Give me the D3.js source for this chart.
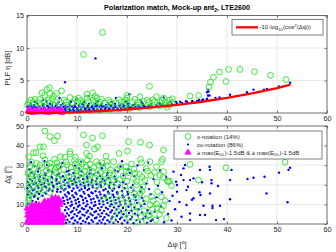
<!DOCTYPE html>
<html>
<head>
<meta charset="utf-8">
<script src="https://cdn.jsdelivr.net/npm/d3@7"></script>
<style>
  body { margin: 0; background: #fff; }
  svg { display: block; font-family: "Liberation Sans", Arial, sans-serif; }
</style>
</head>
<body>
<svg id="chart" width="336" height="252"></svg>
<script>
// ---- data ----
const psiTicks = [0, 10, 20, 30, 40, 50, 60];
const plfTicks = [0, 5, 10, 15];
const chiTicks = [0, 10, 20, 30, 40, 50];

// red reference curve -10log10(cos^2(dpsi)), read at these dpsi
const curvePsi = [0, 5, 10, 15, 20, 25, 30, 35, 40, 45, 50, 52.5];
const curvePlf = [0, 0.03, 0.13, 0.3, 0.54, 0.86, 1.25, 1.73, 2.32, 3.03, 3.84, 4.31];

// top panel: [dpsi, PLF]
const xRotTop = [
  [0.3,1.6],[1.3,1.65],[2.4,1.55],[3.5,1.7],[4.6,1.6],[5.7,1.75],[6.8,1.6],[7.9,1.7],[9.0,1.55],[10.1,1.7],
  [11.2,1.6],[12.3,1.75],[13.4,1.6],[14.5,1.7],[15.6,1.55],[16.7,1.7],[17.8,1.6],[18.9,1.75],[20.0,1.6],[21.1,1.7],
  [22.2,1.6],[23.3,1.75],[24.4,1.65],[25.5,1.7],[26.6,1.6],[27.7,1.7],
  [0.8,2.0],[2.5,2.1],[4.2,1.95],[5.1,2.15],[7.4,2.0],[9.6,2.1],[10.7,1.95],[13.2,2.05],[14.9,2.1],[16.3,1.95],
  [18.4,2.05],[19.7,2.0],[21.6,2.1],[24.0,2.0],[25.2,2.05],[27.0,1.95],[28.5,2.0],
  [0.1,1.2],[2.9,1.25],[5.4,1.2],[8.2,1.2],[11.0,1.25],[13.8,1.2],[16.6,1.25],[19.4,1.2],[22.3,1.25],[25.1,1.2],[27.9,1.25],
  [8.5,0.25],[10.5,0.3],[12.5,0.35],[14.5,0.45],[16.5,0.5],[18.5,0.6],[20.5,0.7],[22.5,0.85],[24.5,0.95],[26.5,1.1],
  [28.5,1.2],[28.0,0.9],[29.0,1.6],
  [11.3,9.0],[15.1,12.4],[4.5,3.9],[4.0,3.6],[3.0,3.1],[3.5,2.7],[4.6,3.0],[5.9,3.0],[6.9,3.4],[5.3,2.6],
  [1.6,2.1],[8.6,2.4],[10.3,2.3],[12.0,2.9],[13.1,3.1],[13.6,2.6],[12.0,2.3],[14.0,2.3],[20.0,2.7],[20.0,2.3],
  [22.6,2.5],[24.5,4.1],[25.9,2.5],[27.3,2.3],[29.1,2.2],[32.6,2.6],[34.3,2.7],[36.4,4.0],[36.7,4.75],[37.3,5.5],
  [38.5,6.3],[40.3,6.7],[39.8,4.85],[42.6,6.7],[45.5,6.35],[48.7,5.8],[51.8,5.15]
];

const coRotTop = [
  [7.7,0.15],[8.4,0.2],[9.2,0.12],[10.0,0.22],[10.8,0.18],[11.6,0.25],[12.4,0.26],
  [7.9,0.35],[8.7,0.4],[9.5,0.3],[10.3,0.38],[11.1,0.33],[11.9,0.42],[12.7,0.36],[13.5,0.4],[14.3,0.37],[15.1,0.43],[15.9,0.42],
  [7.6,0.55],[8.4,0.6],[9.2,0.5],[10.0,0.58],[10.8,0.52],[11.6,0.62],[12.4,0.55],[13.2,0.6],[14.0,0.5],[14.8,0.57],
  [15.6,0.53],[16.4,0.62],[17.2,0.56],[18.0,0.6],[18.8,0.58],[19.6,0.62],
  [0.4,0.75],[1.2,0.8],[2.0,0.7],[2.8,0.78],[3.6,0.72],[4.4,0.82],[5.2,0.74],[6.0,0.8],[6.8,0.7],[7.7,0.77],
  [8.5,0.73],[9.3,0.82],[10.1,0.75],[10.9,0.8],[11.7,0.7],[12.5,0.78],[13.3,0.74],[14.1,0.82],[14.9,0.76],[15.7,0.8],
  [16.5,0.72],[17.3,0.78],[18.1,0.74],[18.9,0.82],[19.7,0.76],[20.5,0.8],[21.3,0.75],[22.1,0.82],
  [0.1,0.95],[0.9,1.0],[1.7,0.9],[2.5,0.98],[3.3,0.92],[4.1,1.02],[4.9,0.94],[5.7,1.0],[6.5,0.9],[7.3,0.97],
  [8.1,0.93],[8.9,1.02],[9.7,0.95],[10.5,1.0],[11.3,0.9],[12.1,0.98],[12.9,0.94],[13.7,1.02],[14.5,0.96],[15.3,1.0],
  [16.1,0.92],[16.9,0.98],[17.7,0.94],[18.5,1.02],[19.3,0.96],[20.1,1.0],[20.9,0.93],[21.7,0.98],[22.6,0.95],[23.5,1.02],[24.4,1.0],
  [0.5,1.15],[1.4,1.2],[2.3,1.1],[3.2,1.18],[4.1,1.12],[5.0,1.22],[5.9,1.14],[6.8,1.2],[7.7,1.1],[8.6,1.17],
  [9.5,1.13],[10.4,1.22],[11.3,1.15],[12.2,1.2],[13.1,1.1],[14.0,1.18],[14.9,1.14],[15.8,1.22],[16.7,1.16],[17.6,1.2],
  [18.5,1.12],[19.4,1.18],[20.3,1.14],[21.2,1.22],[22.2,1.16],[23.3,1.2],[24.5,1.15],[25.8,1.22],
  [0.8,1.4],[2.0,1.45],[3.3,1.35],[4.6,1.43],[5.9,1.37],[7.2,1.47],[8.5,1.39],[9.8,1.45],[11.1,1.35],[12.4,1.42],
  [13.7,1.38],[15.0,1.47],[16.3,1.4],[17.6,1.45],[18.9,1.36],[20.2,1.43],[21.6,1.39],[23.1,1.46],[24.8,1.4],[26.6,1.45],
  [1.6,1.7],[3.9,1.78],[6.3,1.65],[8.8,1.75],[11.4,1.68],[14.1,1.8],[16.9,1.7],[19.8,1.76],[22.9,1.68],
  [23.0,0.8],[24.0,0.95],[25.0,1.0],[26.0,1.05],[27.0,1.2],[28.0,1.3],[29.0,1.4],[30.0,1.45],[31.0,1.55],[32.0,1.7],
  [33.0,1.75],[34.0,1.85],[35.0,1.95],[36.0,2.05],[26.5,1.5],[27.3,2.4],[28.7,1.7],[29.8,1.7],[30.6,1.75],[31.8,1.8],
  [33.1,1.85],[34.4,2.0],[35.2,2.1],[36.2,3.6],[36.3,3.3],[36.5,2.7],[36.0,3.2],[36.2,2.7],[36.0,2.2],[37.7,2.3],
  [38.5,2.4],[40.6,2.8],[44.0,3.2],[45.3,3.6],[47.4,3.6],[48.0,3.7],[50.4,4.1],[52.6,4.65],[7.6,4.75],[13.7,8.4],
  [9.8,2.1],[12.3,2.6],[17.8,2.3],[20.5,2.9],[22.7,2.0],[6.5,2.3],[3.2,2.0]
];

const bestTop = [
  [0.2,0.3],[0.6,0.15],[1.0,0.35],[1.4,0.2],[1.9,0.1],[2.3,0.3],[2.8,0.2],[3.2,0.35],[3.7,0.1],[4.1,0.25],
  [4.6,0.3],[5.0,0.15],[5.5,0.35],[5.9,0.2],[6.3,0.3],[6.8,0.15],[7.2,0.25],[0.4,0.55],[2.0,0.5],[3.5,0.45],
  [5.2,0.5],[6.6,0.45],[1.2,0.05],[4.4,0.05],[7.0,0.05]
];

// bottom panel: [dpsi, dchi]
const xRotBottom = [
  [3.6,47.4],[4.6,44.6],[5.5,42.5],[6.1,44.9],[11.3,45.4],[13.1,43.9],[15.1,45],[11.9,40.3],[13.5,38.3],[14.1,39.4],
  [20.3,42],[22.7,41.7],[24.5,40.3],[27.3,37.8],[1.3,36.4],[1.8,36.4],[2.6,39.4],[3.3,39.4],[8.6,36.9],[8.6,35.7],
  [0.3,34.3],[5.5,33],[6.7,34.3],[7.6,34],[4.6,31],[0.6,29.6],[2.6,30.1],[11.9,36],[12.5,34.7],[10.8,31.8],
  [13.9,31.8],[14.9,31.3],[18.4,36],[20.1,37.2],[17.3,31.8],[19.8,29.2],[21.4,28],[22.7,33],[22.9,31.3],[23.9,28.4],
  [24.6,31.8],[25.9,29.2],[27.1,33],[27.3,26.7],[28.1,21.9],[26.9,31.8],[32.6,30.4],[28.5,21.9],[28.9,19.6],[34.3,22.4],
  [39.8,28.7],[51.6,31.5],[26.9,7.1],[27.9,2.9],[22.6,15.6],[23.9,12.9],[25.2,11.9],[25.9,10.2],[27.3,9.4],[26,8.2],
  [0.2,26],[0.4,22],[0.1,18],[0.5,15],[0.3,12],[0.2,9.5],[0.8,24.5],[1.5,28],[2.2,26.5],[3.0,28.8],
  [3.8,27],[4.8,29],[5.6,27.8],[6.4,29.5],[7.3,28],[8.0,30.2],[8.8,29],[9.6,30.5],[10.3,28.6],[11.1,30.8],
  [11.8,29.3],[12.6,30.5],[13.4,28.8],[14.3,30],[15.2,28.5],[16.1,29.7],[9.1,26.5],[10.0,27.2],[10.8,25.8],[11.6,27],
  [12.4,25.6],[13.2,26.8],[14.0,25.2],[14.8,26.4],[15.6,24.8],[16.5,26],[17.3,24.6],[8.4,24],[9.3,23],[10.1,24.4],
  [11.0,22.8],[11.9,23.9],[12.7,22.2],[13.6,23.5],[14.5,21.8],[15.4,23],[16.3,21.5],[17.2,22.6],[18.1,20.8],[2.1,21.5],
  [3.1,23.5],[4.2,22],[5.3,24.2],[6.2,22.8],[7.1,25],[1.2,19.5],[2.6,18.2],[0.9,31.5],[6.0,31.2],[3.6,32.8],
  [19.2,24.5],[20.4,26.2],[21.3,23.2],[22.5,25.4],[23.6,22.5],[24.8,24.8],[26.0,21.5],[27.2,23.8],[19.6,19.2],[20.8,17.4],
  [21.9,20],[18.7,15.1],[19.9,13.2],[21.0,11.3],[22.2,9.1],[23.4,6.8],[24.5,4.5],[20.5,3.1],[18.2,6.4],[16.9,10.6],
  [25.8,2.1],[28.3,21.6],[24.6,9.7],[24.3,4.6],[21.9,13.9],[22.9,11.4],
  [0.6,20.5],[1.9,22.8],[2.8,19.9],[3.9,20.8],[5.0,19.0],[6.3,20.2],[7.4,18.6],[1.1,16.3],[2.3,14.9],[3.4,17.2],
  [4.5,16.0],[0.4,13.2],[1.0,25.5],[2.7,24.3],[4.4,25.6],[5.8,26.1],[7.8,22.1],[9.0,21.0],[10.6,20.3],[12.2,20.6],
  [13.8,19.6],[15.0,20.2],[16.8,19.1],[18.6,22.7],[20.0,21.9],[21.6,25.9],[23.0,23.9],[24.1,27.0],[25.5,26.3],[26.6,24.9],
  [1.9,30.9],[4.0,30.2],[5.9,29.0],[7.8,31.8],[9.5,32.4],[12.1,32.6],[16.0,31.9],[18.6,29.3],[20.9,30.6],[3.2,34.8],
  [9.7,34.0],[15.8,34.5],[16.7,27.6],[18.0,27.8],[19.8,27.0],[21.9,21.7],[23.2,19.0],
  [15.2,12.6],[16.4,14.3],[17.8,12.1],[19.1,10.4],[20.3,8.2],[21.6,6.0],[22.8,3.8],[23.9,1.5],[19.4,4.9],[17.3,2.3],
  [21.5,15.4],[23.0,16.9],[24.9,14.0],[26.1,16.6],[26.9,13.8],[27.6,12.0],[25.1,7.7],[26.5,5.0],[22.1,1.0]
];

const coRotBottom = [
  [7.8,0.6],[8.5,1.1],[9.3,0.3],[10.1,0.9],[10.8,0.2],[11.7,1.0],[12.4,0.4],[13.2,1.2],[14.1,0.3],[14.9,0.7],
  [15.6,0.2],[16.5,1.0],[17.3,0.5],[18.2,1.1],[19.0,0.3],[20.1,0.8],[21.3,0.4],[22.6,1.0],[24.0,0.5],
  [8.1,2.2],[8.9,2.8],[9.6,1.8],[10.5,2.5],[11.2,1.6],[12.0,2.7],[12.9,2.0],[13.6,2.9],[14.5,1.7],[15.2,2.3],
  [16.1,1.9],[16.9,2.8],[17.8,2.1],[18.6,2.6],[19.5,1.8],[20.7,2.4],[21.9,2.0],[23.2,2.7],[25.1,2.2],
  [7.7,3.8],[8.4,4.4],[9.2,3.4],[10.0,4.1],[10.7,3.2],[11.5,4.3],[12.3,3.6],[13.1,4.5],[13.9,3.3],[14.7,3.9],
  [15.5,3.5],[16.3,4.4],[17.1,3.7],[18.0,4.2],[18.9,3.4],[19.9,4.0],[21.0,3.6],[22.2,4.3],[23.7,3.8],
  [8.0,5.4],[8.8,6.0],[9.5,5.0],[10.3,5.7],[11.1,4.8],[11.9,5.9],[12.7,5.2],[13.5,6.1],[14.3,4.9],[15.0,5.5],
  [15.9,5.1],[16.7,6.0],[17.5,5.3],[18.4,5.8],[19.3,5.0],[20.4,5.6],[21.6,5.2],[23.0,5.9],[24.6,5.4],
  [7.6,7.0],[8.3,7.6],[9.1,6.6],[9.9,7.3],[10.6,6.4],[11.4,7.5],[12.2,6.8],[13.0,7.7],[13.8,6.5],[14.6,7.1],
  [15.4,6.7],[16.2,7.6],[17.0,6.9],[17.9,7.4],[18.8,6.6],[19.8,7.2],[20.9,6.8],[22.3,7.5],[24.1,7.0],
  [7.9,8.6],[8.7,9.2],[9.4,8.2],[10.2,8.9],[11.0,8.0],[11.8,9.1],[12.6,8.4],[13.4,9.3],[14.2,8.1],[14.9,8.7],
  [15.8,8.3],[16.6,9.2],[17.4,8.5],[18.3,9.0],[19.2,8.2],[20.3,8.8],[21.5,8.4],[22.8,9.1],
  [7.5,10.2],[8.2,10.8],[9.0,9.8],[9.8,10.5],[10.5,9.6],[11.3,10.7],[12.1,10.0],[12.9,10.9],[13.7,9.7],[14.5,10.3],
  [15.3,9.9],[16.1,10.8],[16.9,10.1],[17.8,10.6],[18.7,9.8],[19.7,10.4],[20.8,10.0],[22.0,10.7],[23.5,10.2],
  [7.4,11.8],[8.1,12.4],[8.9,11.4],[9.7,12.1],[10.4,11.2],[11.2,12.3],[12.0,11.6],[12.8,12.5],[13.6,11.3],[14.4,11.9],
  [15.2,11.5],[16.0,12.4],[16.8,11.7],[17.7,12.2],[18.6,11.4],[19.6,12.0],[20.6,11.6],[21.8,12.3],[23.3,11.8],
  [0.3,10.5],[1.1,11.8],[1.8,11.2],[0.6,13.4],[1.4,13.9],[2.2,12.9],[7.2,13.4],[7.9,14.0],[8.6,13.0],[9.4,13.7],
  [10.2,12.8],[11.0,13.9],[11.7,13.2],[12.5,14.1],[13.3,12.9],[14.1,13.5],[14.9,13.1],[15.7,14.0],[16.6,13.3],[17.4,13.8],
  [18.3,13.0],[19.3,13.6],[20.4,13.2],[21.7,13.9],[23.0,13.4],
  [0.2,15.0],[0.9,15.6],[1.6,14.6],[2.4,15.3],[3.1,14.4],[3.8,15.5],[7.6,15.0],[8.4,15.6],[9.1,14.6],[9.9,15.3],
  [10.7,14.4],[11.5,15.5],[12.3,14.8],[13.1,15.7],[13.9,14.5],[14.7,15.1],[15.5,14.7],[16.4,15.6],[17.2,14.9],[18.1,15.4],
  [19.1,14.6],[20.2,15.2],[21.4,14.8],
  [0.4,16.6],[1.2,17.2],[2.0,16.2],[2.8,16.9],[3.6,16.0],[4.3,17.1],[5.1,16.8],[6.0,16.5],[6.7,16.4],[7.4,17.2],
  [8.2,16.2],[9.0,16.9],[9.7,16.0],[10.5,17.1],[11.3,16.4],[12.1,17.3],[12.9,16.1],[13.7,16.7],[14.5,16.3],[15.3,17.2],
  [16.2,16.5],[17.1,17.0],[18.0,16.2],[19.0,16.8],[20.1,16.4],[21.3,17.1],[22.7,16.6],
  [0.1,18.2],[0.8,18.8],[1.5,17.8],[2.3,18.5],[3.0,17.6],[3.8,18.7],[4.5,18.0],[5.3,18.9],[6.1,17.7],[6.9,18.3],
  [7.7,17.9],[8.5,18.8],[9.3,18.1],[10.1,18.6],[10.9,17.8],[11.6,18.4],[12.4,18.0],[13.2,18.7],[14.0,18.2],[14.8,18.9],
  [15.7,17.9],[16.5,18.5],[17.4,18.1],[18.4,18.8],[19.5,18.3],[20.8,18.6],
  [0.5,19.8],[1.3,20.4],[2.1,19.4],[2.9,20.1],[3.6,19.2],[4.4,20.3],[5.2,19.6],[6.0,20.5],[6.8,19.3],[7.5,19.9],
  [8.3,19.5],[9.1,20.4],[9.9,19.7],[10.7,20.2],[11.5,19.4],[12.3,20.0],[13.1,19.6],[13.9,20.3],[14.7,19.8],[15.6,20.5],
  [16.4,19.5],[17.4,20.1],[18.5,19.7],[19.8,20.4],
  [0.2,21.4],[1.0,22.0],[1.8,21.0],[2.6,21.7],[3.4,20.8],[4.2,21.9],[5.0,21.2],[5.8,22.1],[6.5,20.9],[7.3,21.5],
  [8.1,21.1],[8.9,22.0],[9.7,21.3],[10.5,21.8],[11.3,21.0],[12.1,21.6],[12.9,21.2],[13.8,21.9],[14.7,21.4],[15.6,22.1],
  [16.6,21.1],[17.8,21.7],[19.2,21.3],
  [0.6,23.0],[1.5,23.6],[2.4,22.6],[3.3,23.3],[4.1,22.4],[5.0,23.5],[5.9,22.8],[6.7,23.7],[7.6,22.5],[8.5,23.1],
  [9.4,22.7],[10.3,23.6],[11.2,22.9],[12.1,23.4],[13.0,22.6],[14.0,23.2],[15.1,22.8],[16.3,23.5],[17.7,23.0],
  [0.3,24.6],[1.4,25.2],[2.6,24.2],[3.7,24.9],[4.9,24.0],[6.1,25.1],[7.2,24.4],[8.4,25.3],[9.6,24.1],[10.8,24.7],
  [12.0,24.3],[13.3,25.2],[14.6,24.5],[16.0,25.0],[17.5,24.2],[19.3,24.8],[21.5,24.4],
  [0.9,26.2],[2.2,26.8],[3.6,25.8],[5.0,26.5],[6.4,25.6],[7.9,26.7],[9.3,26.0],[10.9,26.9],[12.5,25.7],[14.2,26.3],
  [16.1,25.9],[18.2,26.8],[20.6,26.1],
  [0.5,27.8],[2.4,28.4],[4.3,27.4],[6.2,28.1],[8.3,27.2],[10.4,28.3],[12.7,27.6],[15.0,28.5],[17.6,27.3],[20.3,27.9],[23.4,27.5],
  [1.5,29.5],[4.0,30.1],[6.8,29.1],[9.6,29.8],[12.4,28.9],[15.3,30.0],[18.7,29.3],[22.1,29.9],
  [0.8,31.5],[3.5,32.1],[7.1,31.1],[10.8,31.8],[14.6,30.9],[19.0,32.0],[24.2,31.3],
  [24.8,1.5],[26.1,3.2],[27.4,0.9],[25.5,6.3],[26.8,8.9],[28.2,5.1],[25.9,13.6],[27.0,16.2],[28.5,11.7],[24.4,17.8],
  [26.2,19.5],[27.8,24.1],[29.1,14.4],[29.6,7.5],[28.9,1.8],[23.9,20.6],[25.3,22.9],[26.6,27.3],[24.7,15.2],[22.9,18.8],[21.2,19.9],
  [29.3,26.7],[31.3,28.4],[31.6,30.1],[34.6,27.6],[36.5,29.2],[36.6,27.6],[40.9,27.6],[31.3,22.4],[32.6,22.4],[33.3,23.3],
  [36.9,22.4],[36.9,20.8],[40.6,22.4],[44.1,23],[45.3,23.6],[47.5,24.1],[52.3,27.6],[52.6,28.7],[30,19.9],[30,16.5],
  [31.9,17.3],[34.5,16.2],[34.7,14.8],[33.3,13.1],[33,12.4],[31.9,9.7],[35.3,9.3],[37.1,9.3],[37.1,8.2],[38.6,9.3],
  [40.6,12.6],[47.9,15.6],[52.1,11.1],[50.4,26.2],[36.6,15.6],[32.6,5.4],[35.6,4.6],[37.8,2],[30.9,3.7],[32.6,2],
  [34.6,4.6],[30.5,11.2],[29.8,21.6],[30.8,25.0],[32.2,19.0],[35.0,21.3],[38.2,19.4],[39.4,2.5]
];

const bestBottom = [
  [0.0,0.8],[0.7,0.8],[1.4,0.8],[2.1,0.8],[2.8,0.8],[3.5,0.8],[4.2,0.8],[4.9,0.8],[5.6,0.8],[6.3,0.8],[7.0,0.8],
  [0.3,2.6],[1.0,2.6],[1.7,2.6],[2.4,2.6],[3.1,2.6],[3.8,2.6],[4.5,2.6],[5.2,2.6],[5.9,2.6],[6.6,2.6],[7.2,2.6],
  [0.1,4.4],[0.8,4.4],[1.5,4.4],[2.2,4.4],[2.9,4.4],[3.6,4.4],[4.3,4.4],[5.0,4.4],[5.7,4.4],[6.4,4.4],[7.1,4.4],
  [0.2,6.2],[0.9,6.2],[1.6,6.2],[2.3,6.2],[3.0,6.2],[3.7,6.2],[4.4,6.2],[5.1,6.2],[5.8,6.2],[6.3,6.2],
  [0.0,8.0],[0.7,8.0],[1.4,8.0],[2.1,8.0],[2.8,8.0],[3.5,8.0],[4.2,8.0],[4.9,8.0],[5.6,8.0],[6.2,8.0],
  [1.0,9.8],[1.7,9.8],[2.4,9.8],[3.1,9.8],[3.8,9.8],[4.5,9.8],[5.2,9.8],[5.9,9.8],[6.6,9.8],
  [3.5,11.6],[4.2,11.6],[4.9,11.6],[5.6,11.6],[6.3,11.6],[6.8,11.2],
  [5.0,13.2],[5.7,13.4],[6.3,13.0]
];

// ---- layout ----
let width = 336, height = 252;
let left = 27, right = 327;
let textColor = "#262626";

let svg = d3.select("#chart");

let x = d3.scaleLinear().domain([0, 60]).range([left, right]);
let yTop = d3.scaleLinear().domain([0, 15]).range([113, 15.5]);
let yBot = d3.scaleLinear().domain([0, 50]).range([224, 126]);

function frame(y, yTicks, showX) {
  let top = y.range()[1], bottom = y.range()[0];
  let g = svg.append("g");

  // grid
  g.append("g").selectAll("line").data(psiTicks.slice(1, -1)).join("line")
    .attr("x1", d => x(d)).attr("x2", d => x(d))
    .attr("y1", top).attr("y2", bottom)
    .attr("stroke", "#e3e3e3").attr("stroke-width", 0.8);
  g.append("g").selectAll("line").data(yTicks.slice(1, -1)).join("line")
    .attr("x1", left).attr("x2", right)
    .attr("y1", d => y(d)).attr("y2", d => y(d))
    .attr("stroke", "#e3e3e3").attr("stroke-width", 0.8);

  // axes with inward ticks
  let xAxis = g.append("g")
    .attr("transform", `translate(0,${bottom})`)
    .call(d3.axisBottom(x).tickValues(psiTicks).tickSize(-2.5).tickSizeOuter(0).tickPadding(3));
  if (!showX) xAxis.selectAll("text").remove();

  g.append("g")
    .attr("transform", `translate(0,${top})`)
    .call(d3.axisTop(x).tickValues(psiTicks).tickSize(-2.5).tickSizeOuter(0).tickFormat(""));

  g.append("g")
    .attr("transform", `translate(${left},0)`)
    .call(d3.axisLeft(y).tickValues(yTicks).tickSize(-2.5).tickSizeOuter(0).tickPadding(3));

  g.append("g")
    .attr("transform", `translate(${right},0)`)
    .call(d3.axisRight(y).tickValues(yTicks).tickSize(-2.5).tickSizeOuter(0).tickFormat(""));

  g.selectAll(".domain").remove();
  g.selectAll(".tick line").attr("stroke", textColor).attr("stroke-width", 0.6);
  g.selectAll(".tick text").attr("fill", textColor).attr("font-size", 7.3)
    .attr("font-family", "Liberation Sans, Arial, sans-serif");

  g.append("rect")
    .attr("x", left).attr("y", top)
    .attr("width", right - left).attr("height", bottom - top)
    .attr("fill", "none").attr("stroke", "#4a4a4a").attr("stroke-width", 0.8);
  return g;
}

let triangle = d3.symbol().type(d3.symbolTriangle).size(15);

function scatter(y, xrot, corot, best) {
  let g = svg.append("g");
  g.append("g").selectAll("circle").data(corot).join("circle")
    .attr("cx", d => x(d[0])).attr("cy", d => y(d[1])).attr("r", 1.2)
    .attr("fill", "#0000ff");
  g.append("g").selectAll("circle").data(xrot).join("circle")
    .attr("cx", d => x(d[0])).attr("cy", d => y(d[1])).attr("r", 2.9)
    .attr("fill", "none").attr("stroke", "#2be32b").attr("stroke-width", 0.9);
  g.append("g").selectAll("path").data(best).join("path")
    .attr("transform", d => `translate(${x(d[0])},${y(d[1])})`)
    .attr("d", triangle)
    .attr("fill", "#ff00ff").attr("stroke", "#ff00ff").attr("stroke-width", 0.8);
}

// ---- top panel ----
frame(yTop, plfTicks, true);
scatter(yTop, xRotTop, coRotTop, bestTop);

let line = d3.line()
  .x((d, i) => x(curvePsi[i]))
  .y(d => yTop(d));

svg.append("path")
  .datum(curvePlf)
  .attr("fill", "none")
  .attr("stroke", "#ff0000")
  .attr("stroke-width", 2.3)
  .attr("stroke-linecap", "round")
  .attr("d", line);

// ---- bottom panel ----
frame(yBot, chiTicks, true);
scatter(yBot, xRotBottom, coRotBottom, bestBottom);

// ---- texts ----
let title = svg.append("text")
  .attr("x", 177).attr("y", 9.5)
  .attr("text-anchor", "middle")
  .attr("font-size", 7.2).attr("font-weight", "bold").attr("fill", "#000");
title.append("tspan").text("Polarization match, Mock-up ant");
title.append("tspan").attr("font-size", 5).attr("dy", 2).text("2");
title.append("tspan").attr("dy", -2).text(", LTE2600");

let yl1 = svg.append("text")
  .attr("transform", "translate(10,68) rotate(-90)")
  .attr("text-anchor", "middle").attr("font-size", 7.3).attr("fill", textColor);
yl1.text("PLF η [dB]");

let yl2 = svg.append("text")
  .attr("transform", "translate(10,175) rotate(-90)")
  .attr("text-anchor", "middle").attr("font-size", 7.3).attr("fill", textColor);
yl2.append("tspan").text("Δχ [");
yl2.append("tspan").attr("font-size", 5).attr("dy", -3).text("o");
yl2.append("tspan").attr("dy", 3).text("]");

let xl = svg.append("text")
  .attr("x", 177).attr("y", 247)
  .attr("text-anchor", "middle").attr("font-size", 7.3).attr("fill", textColor);
xl.append("tspan").text("Δψ [");
xl.append("tspan").attr("font-size", 5).attr("dy", -3).text("o");
xl.append("tspan").attr("dy", 3).text("]");

// ---- legends ----
let lg1 = svg.append("g");
lg1.append("rect").attr("x", 232).attr("y", 19.5).attr("width", 91).attr("height", 15.5)
  .attr("fill", "#fff").attr("stroke", "#4a4a4a").attr("stroke-width", 0.7);
lg1.append("line").attr("x1", 236).attr("x2", 258).attr("y1", 27.3).attr("y2", 27.3)
  .attr("stroke", "#ff0000").attr("stroke-width", 2.3);
let lt = lg1.append("text").attr("x", 259.5).attr("y", 29.3).attr("font-size", 6).attr("fill", textColor);
lt.append("tspan").text("-10·log");
lt.append("tspan").attr("font-size", 4.3).attr("dy", 1.6).text("10");
lt.append("tspan").attr("dy", -1.6).text("(cos");
lt.append("tspan").attr("font-size", 4.3).attr("dy", -2.4).text("2");
lt.append("tspan").attr("dy", 2.4).text("(Δψ))");

let lg2 = svg.append("g");
lg2.append("rect").attr("x", 174).attr("y", 131).attr("width", 148).attr("height", 28)
  .attr("fill", "#fff").attr("stroke", "#4a4a4a").attr("stroke-width", 0.7);
lg2.append("circle").attr("cx", 188).attr("cy", 136.5).attr("r", 2.9)
  .attr("fill", "none").attr("stroke", "#2be32b").attr("stroke-width", 0.9);
lg2.append("circle").attr("cx", 188).attr("cy", 144.5).attr("r", 1.1).attr("fill", "#0000ff");
lg2.append("path").attr("transform", "translate(188,152.5)").attr("d", triangle)
  .attr("fill", "#ff00ff").attr("stroke", "#ff00ff").attr("stroke-width", 0.8);

let legendLabels = ["x-rotation (14%)", "co-rotation (86%)"];
legendLabels.forEach((s, i) => {
  lg2.append("text").attr("x", 197).attr("y", 138.6 + i * 8)
    .attr("font-size", 6).attr("fill", textColor).text(s);
});
let l3 = lg2.append("text").attr("x", 197).attr("y", 154.6).attr("font-size", 6).attr("fill", textColor);
l3.append("tspan").text("≥ max(E");
l3.append("tspan").attr("font-size", 4.3).attr("dy", 1.6).text("UL");
l3.append("tspan").attr("dy", -1.6).text(")-1.5dB & ≥ max(E");
l3.append("tspan").attr("font-size", 4.3).attr("dy", 1.6).text("DL");
l3.append("tspan").attr("dy", -1.6).text(")-1.5dB");
</script>
</body>
</html>
